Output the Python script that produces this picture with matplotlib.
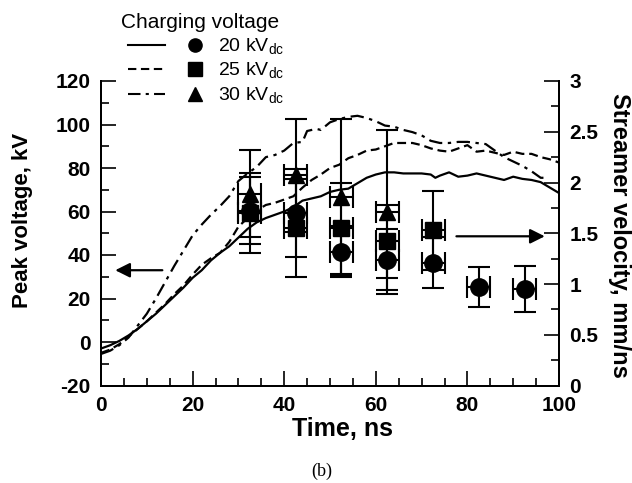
import matplotlib
matplotlib.use("Agg")
import matplotlib.pyplot as plt
from matplotlib.lines import Line2D
from matplotlib.legend_handler import HandlerTuple
from matplotlib.ticker import MultipleLocator, FormatStrFormatter

plt.rcParams['font.family'] = ['Liberation Sans', 'DejaVu Sans']
plt.rcParams['mathtext.fontset'] = 'custom'
plt.rcParams['mathtext.rm'] = 'Liberation Sans'
plt.rcParams['axes.unicode_minus'] = False

# peak voltage waveforms (left axis), kV vs ns
t20 = [0, 2, 4, 6, 8, 10, 12, 14, 16, 18, 20, 22, 24, 26, 28, 30, 32, 34, 36, 38,
       40, 42, 44, 46, 48, 50, 52, 54, 56, 58, 60, 62, 64, 66, 68, 70, 72, 73, 74,
       76, 78, 80, 82, 84, 86, 88, 90, 92, 94, 96, 98, 100]
v20 = [-3, -1.5, 0.5, 3, 6, 9.5, 13, 17, 21, 25, 29.5, 33, 37.5, 41, 44, 48, 52, 55,
       57, 58.5, 60, 62, 65, 66, 67, 69, 70, 70.5, 73, 75.5, 77, 78, 78, 77.5, 77.5,
       77.5, 77, 75.5, 76.5, 78, 76, 76.5, 77.5, 76.5, 75.5, 74.5, 76, 75, 74.5,
       73.5, 71, 68.5]

t25 = [0, 2, 4, 6, 8, 10, 12, 14, 16, 18, 20, 22, 24, 26, 28, 30, 32, 34, 36, 38,
       40, 42, 44, 46, 48, 50, 52, 54, 56, 58, 60, 62, 64, 66, 68, 70, 72, 74, 76,
       78, 80, 82, 84, 86, 88, 90, 92, 94, 96, 98, 100]
v25 = [-5, -3.5, -1, 2.5, 6, 9.5, 13.5, 17.5, 22, 26, 31, 35.5, 38.5, 41, 46, 53,
       57, 60.5, 63, 64, 65.5, 67, 71, 74.5, 77, 80, 81.5, 84.5, 86, 88, 88.5, 90,
       91.5, 91.5, 91.5, 90.5, 89, 88, 87.5, 89, 90.5, 87.5, 88, 87, 86, 87.5,
       86.5, 86.5, 85, 84, 82.5]

t30 = [0, 2, 4, 6, 8, 10, 12, 14, 16, 18, 20, 22, 24, 26, 28, 30, 32, 34, 36, 38,
       40, 42, 44, 45, 47, 48, 50, 52, 54, 56, 58, 60, 62, 64, 66, 68, 70, 72, 74,
       76, 78, 80, 82, 84, 86, 88, 90, 92, 94, 96, 97]
v30 = [-5.5, -4, -1.5, 2, 7.5, 13, 20, 27.5, 35, 42, 49, 54, 58.5, 62.5, 67, 74,
       77.5, 80.5, 85, 86, 88, 91.5, 92, 97, 98, 97.5, 101, 102.5, 103.5, 104, 103,
       101.5, 99.5, 99, 97.5, 96.5, 95, 92.5, 91.5, 91.5, 92, 92, 91.5, 91, 88, 85,
       83, 81, 78.5, 75.5, 75.5]

# streamer velocity (right axis), mm/ns
c_t = [32.5, 42.5, 52.5, 62.5, 72.5, 82.5, 92.5]
c_v = [1.72, 1.70, 1.32, 1.24, 1.21, 0.97, 0.95]
c_err = [0.33, 0.43, 0.25, 0.30, 0.25, 0.20, 0.23]
s_t = [32.5, 42.5, 52.5, 62.5, 72.5]
s_v = [1.70, 1.55, 1.55, 1.42, 1.53]
s_err = [0.39, 0.48, 0.45, 0.36, 0.39]
tr_t = [32.5, 42.5, 52.5, 62.5]
tr_v = [1.89, 2.07, 1.86, 1.71]
tr_err = [0.43, 0.56, 0.77, 0.81]
t_err = 2.5

labels = ['20 kV$_{\\mathrm{dc}}$', '25 kV$_{\\mathrm{dc}}$', '30 kV$_{\\mathrm{dc}}$']

W, H = 632, 483
fig = plt.figure(figsize=(6.32, 4.83), dpi=100)
ax = fig.add_axes([101 / W, 1 - 385.5 / H, 458 / W, 304.5 / H])
ax2 = ax.twinx()

lw = 1.6
dash = (0, (4, 2.2))
dashdot = (0, (6, 2.5, 1.5, 2.5))
ax.plot(t20, v20, color='k', lw=lw, ls='-')
ax.plot(t25, v25, color='k', lw=lw, ls=dash)
ax.plot(t30, v30, color='k', lw=lw, ls=dashdot)

eb = dict(color='k', lw=1.5, capsize=8, capthick=1.5, ls='none')
ax2.errorbar(tr_t, tr_v, yerr=tr_err, xerr=t_err, marker='^', ms=12, **eb)
ax2.errorbar(c_t, c_v, yerr=c_err, xerr=t_err, marker='o', ms=12.5, **eb)
ax2.errorbar(s_t, s_v, yerr=s_err, xerr=t_err, marker='s', ms=12, **eb)

ax.annotate('', xy=(2.5, 33), xytext=(14, 33),
            arrowprops=dict(arrowstyle='-|>', color='k', lw=1.6, mutation_scale=22))
ax2.annotate('', xy=(97.5, 1.47), xytext=(77, 1.47),
             arrowprops=dict(arrowstyle='-|>', color='k', lw=1.6, mutation_scale=22))

ax.set_xlim(0, 100)
ax.set_ylim(-20, 120)
ax2.set_ylim(0, 3)
ax.xaxis.set_major_locator(MultipleLocator(20))
ax.xaxis.set_minor_locator(MultipleLocator(5))
ax.yaxis.set_major_locator(MultipleLocator(20))
ax.yaxis.set_minor_locator(MultipleLocator(10))
ax2.yaxis.set_major_locator(MultipleLocator(0.5))
ax2.yaxis.set_minor_locator(MultipleLocator(0.25))
ax2.yaxis.set_major_formatter(FormatStrFormatter('%g'))

for a in (ax, ax2):
    a.spines['top'].set_visible(False)
    for sp in a.spines.values():
        sp.set_linewidth(1.4)
    a.tick_params(which='major', direction='in', length=11, width=1.2,
                  labelsize=15, pad=7.5)
    a.tick_params(which='minor', direction='in', length=6, width=1.2)
ax.tick_params(axis='y', right=False, which='both')
for lab in ax.get_xticklabels() + ax.get_yticklabels() + ax2.get_yticklabels():
    lab.set_fontweight('bold')

ax.set_xlabel('Time, ns', fontsize=18, fontweight='bold')
ax.xaxis.set_label_coords((342.5 - 101) / 458, (385.5 - 417.5) / 304.5)
ax.set_ylabel('Peak voltage, kV', fontsize=16, fontweight='bold',
              va='center', ha='center', rotation_mode='anchor')
ax.yaxis.set_label_coords((22.5 - 101) / 458, (385.5 - 220) / 304.5)
ax2.set_ylabel('Streamer velocity, mm/ns', fontsize=17, fontweight='bold',
               rotation=270, va='center', ha='center', rotation_mode='anchor')
ax2.yaxis.set_label_coords((620 - 101) / 458, (385.5 - 235) / 304.5)

# legend: line style + marker per charging voltage
styles = ['-', dash, dashdot]
marks = ['o', 's', '^']
handles = []
for ls, mk in zip(styles, marks):
    ln = Line2D([], [], color='k', lw=1.5, ls=ls)
    m = Line2D([], [], color='k', ls='none', marker=mk, ms=9.5)
    handles.append((ln, m))
fig.legend(handles, labels,
           handler_map={tuple: HandlerTuple(ndivide=None, pad=0.59)},
           handlelength=4.4, handletextpad=0.23, labelspacing=0.2,
           frameon=False, fontsize=14,
           loc='upper left', bbox_to_anchor=(128 / W, 1 - 37 / H),
           borderaxespad=0, borderpad=0)
fig.text(121 / W, 1 - 23 / H, 'Charging voltage', fontsize=15, va='center')

fig.text(322 / W, 1 - 471 / H, '(b)', ha='center', va='center', fontsize=13,
         family=['Liberation Serif', 'DejaVu Serif'])

fig.savefig('out.png', dpi=100)
